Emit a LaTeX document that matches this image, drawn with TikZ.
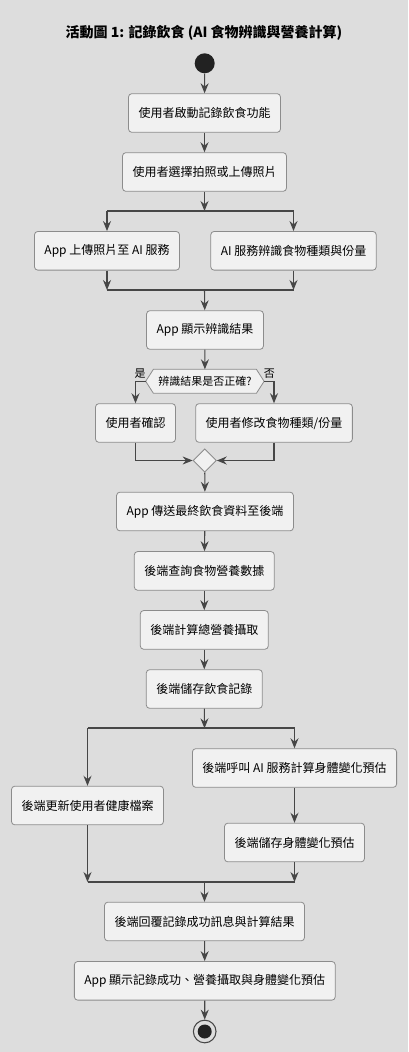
\documentclass[tikz,border=0pt]{standalone}
\usepackage{fontspec}
\setmainfont{Noto Sans CJK TC}
\usetikzlibrary{arrows.meta,shapes.geometric,calc}

\definecolor{bgGray}{RGB}{221,221,221}
\definecolor{boxFill}{RGB}{241,241,241}
\definecolor{boxLine}{RGB}{140,140,140}
\definecolor{flowLine}{RGB}{70,70,70}
\definecolor{dotFill}{RGB}{34,34,34}

\tikzset{
  act/.style={draw=boxLine, fill=boxFill, rounded corners=2.5pt, line width=0.6pt,
    minimum height=29pt, inner xsep=7.5pt, inner ysep=0pt, font=\fontsize{9}{11}\selectfont},
  flow/.style={draw=flowLine, line width=0.8pt, -{Stealth[length=7.5pt,width=6pt,inset=2.5pt]}},
  bar/.style={draw=flowLine, line width=1.6pt},
  lbl/.style={inner sep=0pt, font=\fontsize{8.25}{10}\selectfont},
}

\begin{document}
\begin{tikzpicture}[x=0.75pt,y=0.75pt,yscale=-1,xscale=1]
%Background
\fill[bgGray] (0,0) rectangle (408,1052);

% Title
\node[font=\bfseries\fontsize{10.5}{12}\selectfont] (title) at (204,33) {活動圖 1: 記錄飲食 (AI 食物辨識與營養計算)};

%Shape: Start
\node[circle, fill=dotFill, minimum size=15pt, inner sep=0pt] (start) at (204.7,63.3) {};

% Actions
\node[act] (b1) at (204.5,113) {使用者啟動記錄飲食功能};
\node[act] (b2) at (204.5,172) {使用者選擇拍照或上傳照片};
\coordinate (f1) at (204.5,211);
\node[act] (b3) at (107,250.8) {App 上傳照片至 AI 服務};
\node[act] (b4) at (293.5,250.8) {AI 服務辨識食物種類與份量};
\coordinate (j1) at (204.5,290);
\node[act] (b5) at (205,330) {App 顯示辨識結果};

%Shape: Decision hexagon
\coordinate (q) at (204.9,381.3);
\coordinate (decl) at ($(q)+(-59.2,0)$);
\coordinate (decr) at ($(q)+(59.2,0)$);
\coordinate (dect) at ($(q)+(0,-12)$);
\draw[draw=boxLine, fill=boxFill, line width=0.6pt] (decl) -- ($(q)+(-51.5,-12)$) -- ($(q)+(51.5,-12)$) -- (decr)
  -- ($(q)+(51.5,12)$) -- ($(q)+(-51.5,12)$) -- cycle;
\node[lbl] (dec) at (q) {辨識結果是否正確?};
\node[lbl] (yes) at (140,373.3) {是};
\node[lbl] (no) at (269.3,373.3) {否};

\node[act] (b6) at (135.5,423) {使用者確認};
\node[act] (b7) at (274,423) {使用者修改食物種類/份量};
\node[diamond, draw=boxLine, fill=boxFill, line width=0.6pt, minimum width=17.5pt,
  minimum height=17.5pt, inner sep=0pt] (mrg) at (204.7,460.5) {};
\node[act] (b8) at (205,511.5) {App 傳送最終飲食資料至後端};
\node[act] (b9) at (204.3,570.9) {後端查詢食物營養數據};
\node[act] (b10) at (204.3,629.9) {後端計算總營養攝取};
\node[act] (b11) at (204.3,689) {後端儲存飲食記錄};
\coordinate (f2) at (204.5,728.3);
\node[act] (b12) at (294.5,768) {後端呼叫 AI 服務計算身體變化預估};
\node[act] (b13) at (87.5,805.5) {後端更新使用者健康檔案};
\node[act] (b14) at (294.5,842.5) {後端儲存身體變化預估};
\coordinate (j2) at (204.5,882);
\node[act] (b15) at (204.5,921.5) {後端回覆記錄成功訊息與計算結果};
\node[act] (b16) at (204.8,980.8) {App 顯示記錄成功、營養攝取與身體變化預估};

%Shape: End
\node[circle, draw=flowLine, fill=bgGray, line width=0.8pt, minimum size=17pt, inner sep=0pt] (stop) at (204.7,1031.5) {};
\node[circle, fill=dotFill, minimum size=10.5pt, inner sep=0pt] (stopdot) at (stop) {};

% Bars
\draw[bar] (f1 -| b3) -- (f1 -| b4);
\draw[bar] (j1 -| b3) -- (j1 -| b4);
\draw[bar] (f2 -| b13) -- (f2 -| b12);
\draw[bar] (j2 -| b13) -- (j2 -| b14);

%Straight Lines
\draw[flow] (start) -- (b1);
\draw[flow] (b1) -- (b2);
\draw[flow] (b2) -- (f1);
\draw[flow] (f1 -| b3) -- (b3);
\draw[flow] (f1 -| b4) -- (b4);
\draw[flow] (b3) -- (j1 -| b3);
\draw[flow] (b4) -- (j1 -| b4);
\draw[flow] (j1) -- (b5);
\draw[flow] (b5) -- (dect);
\draw[flow] (decl) -| (b6);
\draw[flow] (decr) -| (b7);
\draw[flow] (b6) |- (mrg);
\draw[flow] (b7) |- (mrg);
\draw[flow] (mrg) -- (b8);
\draw[flow] (b8) -- (b9);
\draw[flow] (b9) -- (b10);
\draw[flow] (b10) -- (b11);
\draw[flow] (b11) -- (f2);
\draw[flow] (f2 -| b13) -- (b13);
\draw[flow] (f2 -| b12) -- (b12);
\draw[flow] (b12) -- (b14);
\draw[flow] (b13) -- (j2 -| b13);
\draw[flow] (b14) -- (j2 -| b14);
\draw[flow] (j2) -- (b15);
\draw[flow] (b15) -- (b16);
\draw[flow] (b16) -- (stop);

\end{tikzpicture}
\end{document}
